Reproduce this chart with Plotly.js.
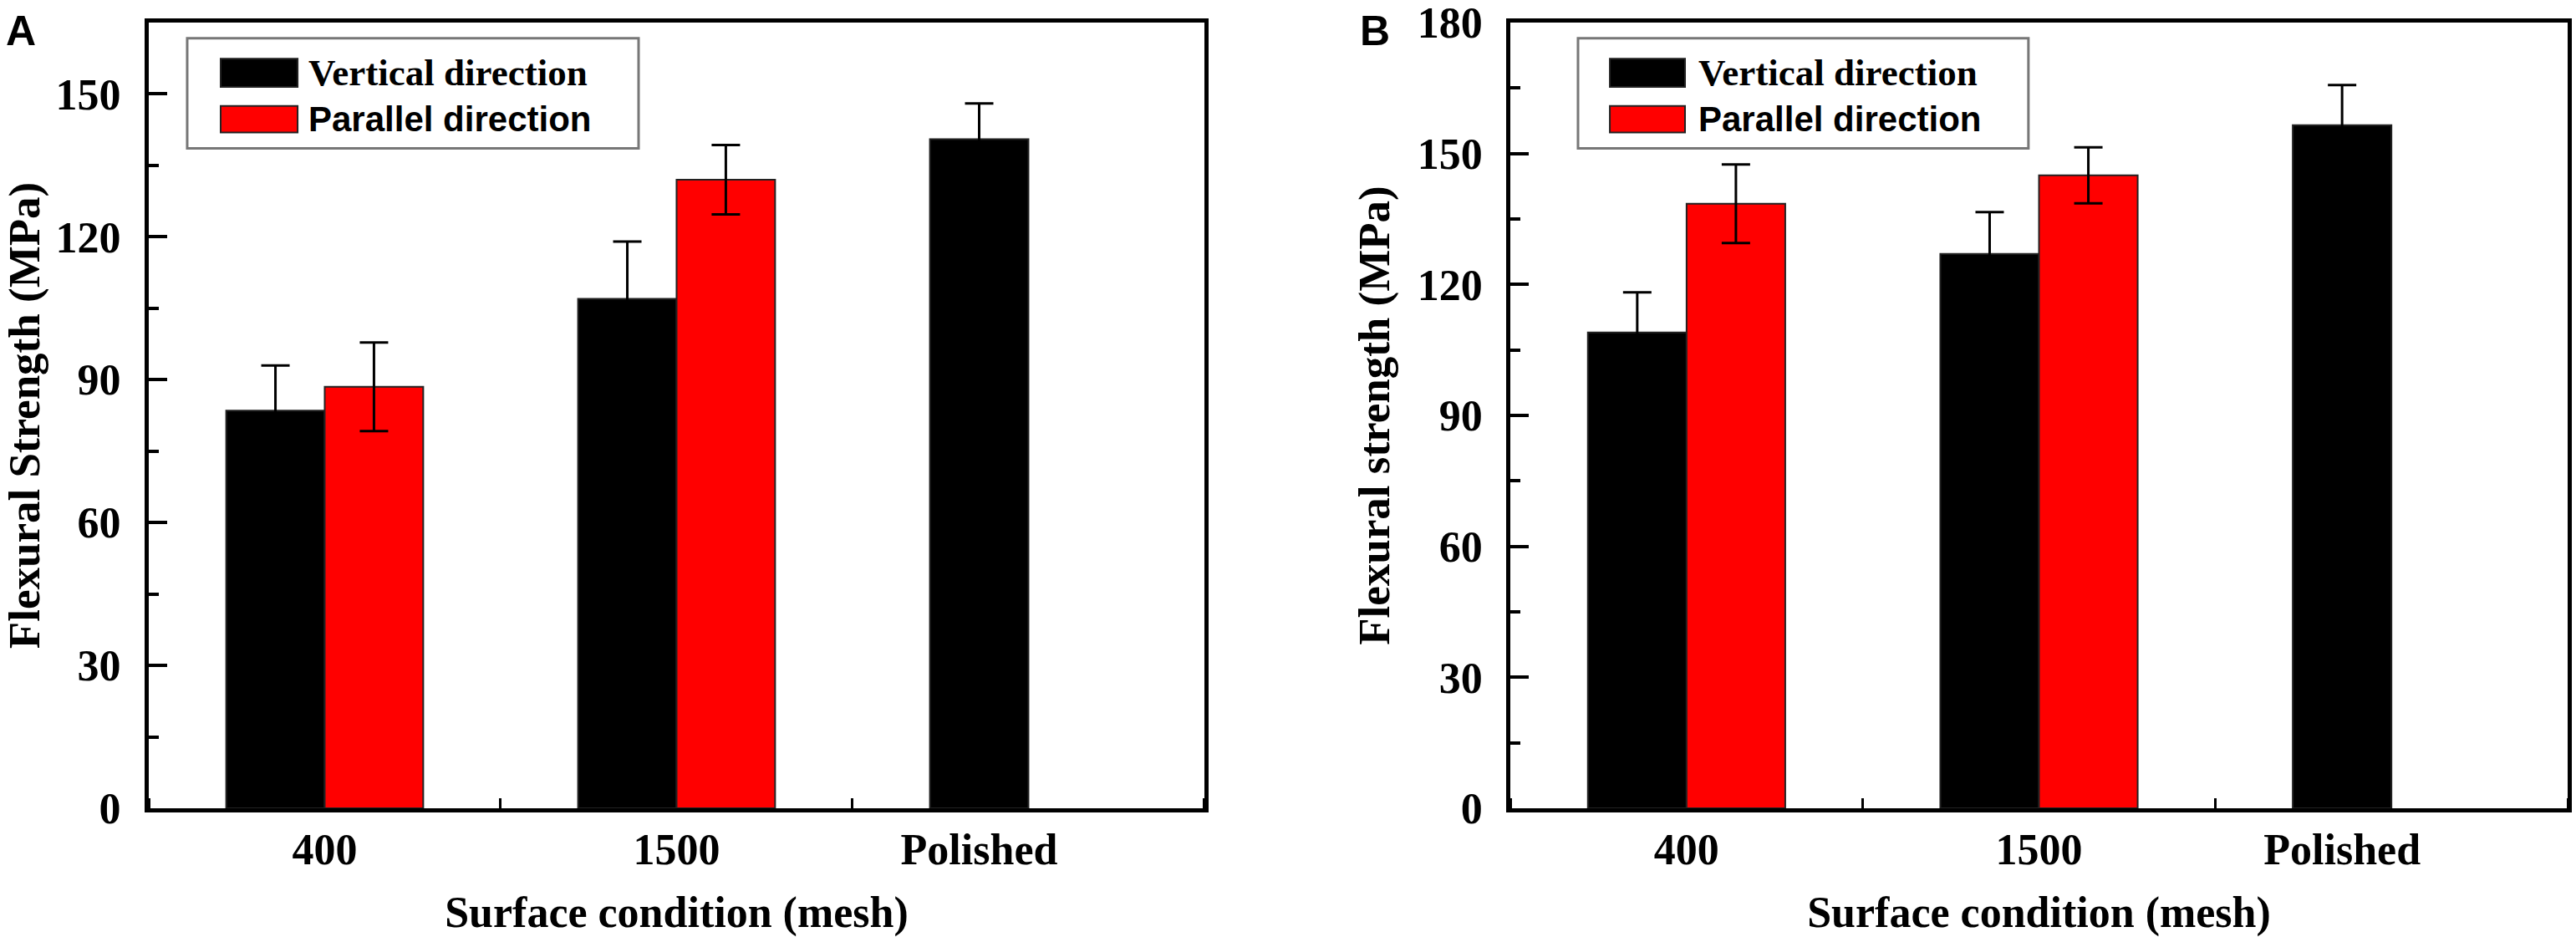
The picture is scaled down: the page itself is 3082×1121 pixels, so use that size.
<!DOCTYPE html>
<html>
<head>
<meta charset="utf-8">
<script src="https://cdn.plot.ly/plotly-3.0.1.min.js"></script>
<style>
  html, body { margin: 0; padding: 0; background: #fff; }
  #chart { width: 3082px; height: 1121px; }
</style>
</head>
<body>
<div id="chart"></div>
<script>
// surface conditions (mesh)
var categories = ['400', '1500', 'Polished'];
var SERIES_VERTICAL = 'Vertical direction';
var SERIES_PARALLEL = 'Parallel direction';

// panel A, flexural strength (MPa) with error bars
var verticalA = [83.5, 107, 140.5];
var verticalErrA = [9.5, 12, 7.5];
var parallelA = [88.5, 132, null];
var parallelErrA = [9.3, 7.3, null];

// panel B
var verticalB = [109, 127, 156.5];
var verticalErrB = [9.2, 9.6, 9.2];
var parallelB = [138.5, 145, null];
var parallelErrB = [9, 6.4, null];

var yTicksA = [0, 30, 60, 90, 120, 150];
var yTicksB = [0, 30, 60, 90, 120, 150, 180];

var BAR_GAP = 0.44;
var serif = 'Liberation Serif, Times New Roman, serif';
var sans = 'Liberation Sans, Arial, sans-serif';

var idx = categories.map(function (c, i) { return i; });

// label sits under the bars actually drawn in each group
var labelPos = function (parallel) {
    return idx.map(function (i) {
        return parallel[i] == null ? i - (1 - BAR_GAP) / 4 : i;
    });
};

var barTrace = function (name, values, errors, color, xa, ya) {
    return {
        type: 'bar',
        name: name,
        x: idx,
        y: values,
        xaxis: xa,
        yaxis: ya,
        showlegend: false,
        marker: {color: color, line: {color: '#222', width: 2}},
        error_y: {type: 'data', array: errors, visible: true,
                  color: '#000', thickness: 3, width: 17}
    };
};

var data = [
    barTrace(SERIES_VERTICAL, verticalA, verticalErrA, '#000000', 'x', 'y'),
    barTrace(SERIES_PARALLEL, parallelA, parallelErrA, '#ff0000', 'x', 'y'),
    barTrace(SERIES_VERTICAL, verticalB, verticalErrB, '#000000', 'x2', 'y2'),
    barTrace(SERIES_PARALLEL, parallelB, parallelErrB, '#ff0000', 'x2', 'y2')
];

var xAxis = function (domain, parallel, anchor) {
    return {
        domain: domain,
        anchor: anchor,
        range: [-0.5, categories.length - 0.5],
        tickmode: 'array',
        tickvals: labelPos(parallel),
        ticktext: categories,
        ticks: '',
        ticklabelstandoff: 0,
        ticklabeloverflow: 'allow',
        tickfont: {family: serif, size: 52, color: '#000', weight: 'bold'},
        minor: {tickmode: 'linear', tick0: 0.5, dtick: 1, ticks: 'inside',
                ticklen: 12, tickwidth: 3, tickcolor: '#000'},
        showline: true, linewidth: 5, linecolor: '#000', mirror: true,
        showgrid: false, zeroline: false, fixedrange: true,
        title: {text: 'Surface condition (mesh)', standoff: 32,
                font: {family: serif, size: 52, color: '#000', weight: 'bold'}}
    };
};

var yAxis = function (ticks, top, title, anchor) {
    return {
        anchor: anchor,
        range: [0, top],
        tickmode: 'array',
        tickvals: ticks,
        ticks: 'inside',
        ticklen: 22,
        tickwidth: 4,
        tickcolor: '#000',
        ticklabelstandoff: 18,
        ticklabeloverflow: 'allow',
        tickfont: {family: serif, size: 52, color: '#000', weight: 'bold'},
        minor: {tickmode: 'linear', tick0: 15, dtick: 30, ticks: 'inside',
                ticklen: 12, tickwidth: 4, tickcolor: '#000'},
        showline: true, linewidth: 5, linecolor: '#000', mirror: true,
        showgrid: false, zeroline: false, fixedrange: true,
        title: {text: title, standoff: 18,
                font: {family: serif, size: 53, color: '#000', weight: 'bold'}}
    };
};

// hand-drawn legend box for each panel, Origin style
var legendShapes = [];
var legendNotes = [];
var addLegend = function (xa, ya, box, sw, textX) {
    legendShapes.push({type: 'rect', xref: xa + ' domain', yref: ya + ' domain',
        x0: box[0], x1: box[1], y0: 0.840, y1: 0.980,
        line: {color: '#777', width: 3}, fillcolor: 'rgba(0,0,0,0)'});
    legendShapes.push({type: 'rect', xref: xa + ' domain', yref: ya + ' domain',
        x0: sw[0], x1: sw[1], y0: 0.918, y1: 0.954,
        line: {color: '#222', width: 2}, fillcolor: '#000000'});
    legendShapes.push({type: 'rect', xref: xa + ' domain', yref: ya + ' domain',
        x0: sw[0], x1: sw[1], y0: 0.860, y1: 0.894,
        line: {color: '#222', width: 2}, fillcolor: '#ff0000'});
    legendNotes.push({xref: xa + ' domain', yref: ya + ' domain', x: textX, y: 0.936,
        xanchor: 'left', yanchor: 'middle', showarrow: false, text: SERIES_VERTICAL,
        font: {family: serif, size: 45, color: '#000', weight: 'bold'}});
    legendNotes.push({xref: xa + ' domain', yref: ya + ' domain', x: textX, y: 0.877,
        xanchor: 'left', yanchor: 'middle', showarrow: false, text: SERIES_PARALLEL,
        font: {family: sans, size: 42, color: '#000', weight: 'bold'}});
};
addLegend('x', 'y', [0.0364, 0.464], [0.0681, 0.1410], 0.150);
addLegend('x2', 'y2', [0.064, 0.490], [0.0941, 0.1652], 0.176);

var panelLabels = [
    {xref: 'paper', yref: 'paper', x: -0.0598, y: 1.0213, xanchor: 'left', yanchor: 'top',
     showarrow: false, text: 'A', font: {family: sans, size: 50, color: '#000', weight: 'bold'}},
    {xref: 'paper', yref: 'paper', x: 0.5, y: 1.0213, xanchor: 'left', yanchor: 'top',
     showarrow: false, text: 'B', font: {family: sans, size: 50, color: '#000', weight: 'bold'}}
];

var layout = {
    width: 3082,
    height: 1121,
    margin: {l: 178, r: 10, t: 27, b: 154},
    paper_bgcolor: '#fff',
    plot_bgcolor: '#fff',
    barmode: 'group',
    bargap: BAR_GAP,
    bargroupgap: 0,
    showlegend: false,
    xaxis: xAxis([0, 0.4364], parallelA, 'y'),
    yaxis: yAxis(yTicksA, 165, 'Flexural Strength (MPa)', 'x'),
    xaxis2: xAxis([0.5629, 1], parallelB, 'y2'),
    yaxis2: yAxis(yTicksB, 180, 'Flexural strength (MPa)', 'x2'),
    shapes: legendShapes,
    annotations: legendNotes.concat(panelLabels)
};

Plotly.newPlot('chart', data, layout, {displayModeBar: false, staticPlot: true});
</script>
</body>
</html>
